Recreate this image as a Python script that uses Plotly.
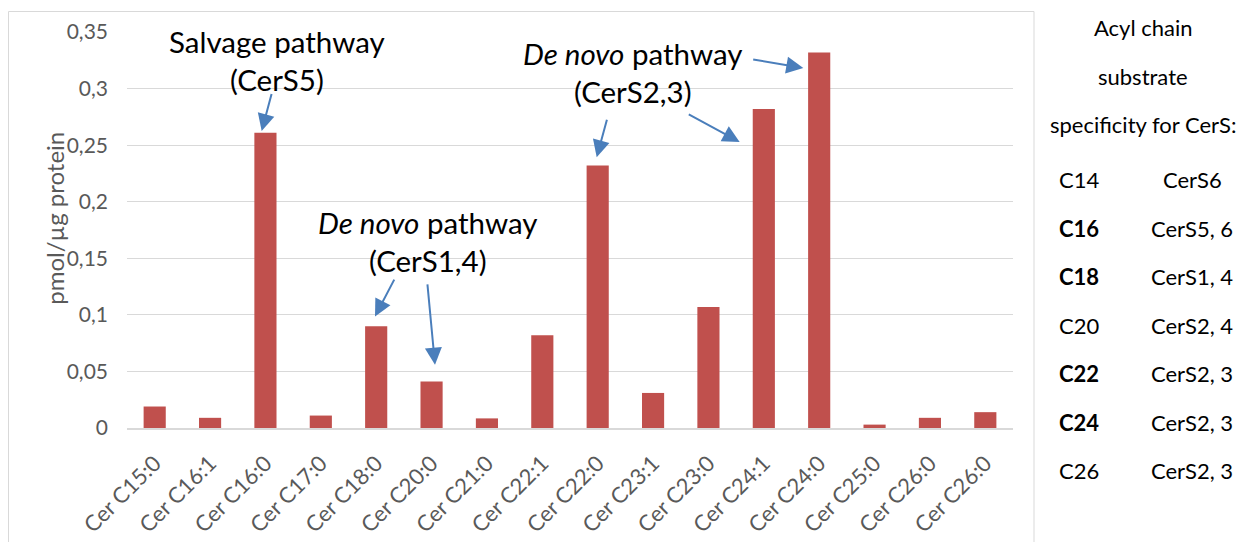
import plotly.graph_objects as go

# Ceramide species and measured amounts (pmol/µg protein)
species = ["Cer C15:0", "Cer C16:1", "Cer C16:0", "Cer C17:0", "Cer C18:0",
           "Cer C20:0", "Cer C21:0", "Cer C22:1", "Cer C22:0", "Cer C23:1",
           "Cer C23:0", "Cer C24:1", "Cer C24:0", "Cer C25:0", "Cer C26:0",
           "Cer C26:0"]
amount = [0.019, 0.009, 0.261, 0.011, 0.090, 0.041, 0.0085, 0.082, 0.232,
          0.031, 0.107, 0.282, 0.332, 0.003, 0.009, 0.014]

# Acyl chain specificity table
chain = ["C14", "C16", "C18", "C20", "C22", "C24", "C26"]
synthase = ["CerS6", "CerS5, 6", "CerS1, 4", "CerS2, 4", "CerS2, 3", "CerS2, 3", "CerS2, 3"]
chain_bold = [False, True, True, False, True, True, False]
table_head = ["Acyl chain", "substrate", "specificity for CerS:"]

y_ticks = [0, 0.05, 0.1, 0.15, 0.2, 0.25, 0.3, 0.35]

FONT = "Lato"
W, H = 1247, 542
L, R, T, B = 127, 234, 32, 113.5
pw, ph = W - L - R, H - T - B

def px(x):
    return (x - L) / pw

def py(y):
    return (H - B - y) / ph

positions = list(range(len(species)))

fig = go.Figure(go.Bar(
    x=positions, y=amount, marker=dict(color="#C0504D", line=dict(width=0)),
    width=0.4, hoverinfo="skip",
))

ann = []
# pathway labels
LABEL = dict(size=29.5, color="black", family=FONT)
ann.append(dict(x=2.21, y=0.325, xref="x", yref="y", showarrow=False,
                text="Salvage pathway<br>(CerS5)", font=LABEL))
ann.append(dict(x=4.93, y=0.1647, xref="x", yref="y", showarrow=False,
                text="<i>De novo</i> pathway<br>(CerS1,4)", font=LABEL))
ann.append(dict(x=8.63, y=0.3146, xref="x", yref="y", showarrow=False,
                text="<i>De novo</i> pathway<br>(CerS2,3)", font=LABEL))

# arrows pointing at bars: (tail x, tail y, head x, head y)
arrows = [
    (2.118, 0.2967, 1.932, 0.2626),
    (4.340, 0.1325, 3.979, 0.0986),
    (4.923, 0.1283, 5.062, 0.0560),
    (8.174, 0.2738, 7.982, 0.2394),
    (9.618, 0.2780, 10.564, 0.2529),
    (10.781, 0.3261, 11.713, 0.3182),
]
for tx, ty, hx, hy in arrows:
    ann.append(dict(x=hx, y=hy, ax=tx, ay=ty, xref="x", yref="y",
                    axref="x", ayref="y", text="", showarrow=True,
                    arrowhead=2, arrowsize=1.7, arrowwidth=2,
                    arrowcolor="#4A7EBB", standoff=0, startstandoff=0))

# y axis title
ann.append(dict(x=px(38), y=py(218.5), xref="paper", yref="paper",
                text="pmol/µg protein", textangle=-90, showarrow=False,
                font=dict(size=24, color="#595959", family=FONT)))

# specificity table on the right
TABLE = dict(size=22, color="black", family=FONT)
head_y = [27.5, 76.5, 125]
for t, yy in zip(table_head, head_y):
    ann.append(dict(x=px(1143), y=py(yy), xref="paper", yref="paper",
                    text=t, showarrow=False, xanchor="center", yanchor="middle",
                    font=TABLE))
for i, (c, s, b) in enumerate(zip(chain, synthase, chain_bold)):
    yy = 180 + i * 48.5
    ann.append(dict(x=px(1057), y=py(yy), xref="paper", yref="paper",
                    text=f"<b>{c}</b>" if b else c, showarrow=False,
                    xanchor="left", yanchor="middle", font=TABLE))
    ann.append(dict(x=px(1192), y=py(yy), xref="paper", yref="paper",
                    text=s, showarrow=False, xanchor="center", yanchor="middle",
                    font=TABLE))

fig.update_layout(
    width=W, height=H,
    margin=dict(l=L, r=R, t=T, b=B, pad=0),
    paper_bgcolor="white", plot_bgcolor="white",
    separators=", ",
    showlegend=False,
    bargap=0.6,
    annotations=ann,
    font=dict(family=FONT),
    shapes=[dict(type="rect", xref="paper", yref="paper",
                 x0=px(8.5), x1=px(1034), y0=py(560), y1=py(11.5),
                 line=dict(color="#D9D9D9", width=1), fillcolor="rgba(0,0,0,0)",
                 layer="below")],
    xaxis=dict(
        range=[-0.5, len(species) - 0.5], automargin=False,
        tickmode="array", tickvals=positions, ticktext=species,
        tickangle=-45, showgrid=False, zeroline=False,
        showline=True, linecolor="#D9D9D9", linewidth=1.5,
        ticks="", ticklabelstandoff=12,
        tickfont=dict(size=22, color="#595959", family=FONT),
    ),
    yaxis=dict(
        range=[0, 0.3501], tickmode="array", tickvals=y_ticks, automargin=False,
        showgrid=True, gridcolor="#D9D9D9", gridwidth=1,
        zeroline=False, showline=False, ticks="", ticklabelstandoff=18,
        tickfont=dict(size=21, color="#595959", family=FONT),
    ),
)

fig.write_html("out.html")
